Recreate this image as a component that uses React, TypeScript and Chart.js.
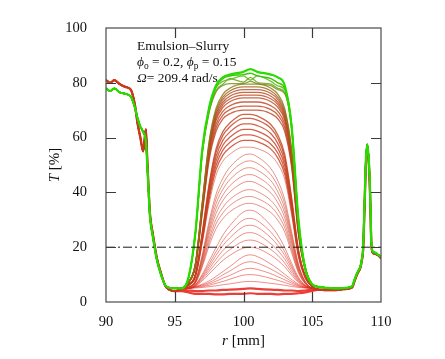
import React, { useEffect, useRef } from 'react';
import { Chart, registerables } from 'chart.js';

Chart.register(...registerables);

// ---------------- data ----------------
const X_MIN = 90;
const X_MAX = 110;
const Y_MIN = 0;
const Y_MAX = 100;
const X_TICK_STEP = 5;
const Y_TICK_STEP = 20;
const X_INNER_TICKS = [95, 100, 105];
const Y_INNER_TICKS = [20, 40, 60, 80];
const THRESHOLD_T = 20;

// left edge of the cell (shared by all profiles)
const R_LEFT = [90, 90.3, 90.6, 91, 91.4, 91.8, 92.1, 92.3, 92.5, 92.7, 92.9, 93.0, 93.1, 93.2, 93.4, 93.7, 94.0, 94.3, 94.6, 95.0];
const T_LEFT_EARLY = [81, 80, 81, 79.5, 78.5, 77.5, 72, 65, 60, 55, 63, 52, 41, 32, 25, 16, 10.5, 6, 4.5, 4];
const T_LEFT_LATE = [78, 77, 78, 76.5, 76, 75, 71, 67, 64, 62, 58.5, 50, 40, 31, 24, 15.3, 10, 6.2, 5.2, 5];

// right edge of the cell (shared by all profiles)
const R_RIGHT = [105.5, 106, 106.5, 107, 107.5, 107.9, 108.1, 108.3, 108.5, 108.6, 108.7, 108.8, 108.9, 109.0, 109.1, 109.2, 109.3, 109.4, 109.6, 109.8, 110];
const T_RIGHT_EARLY = [4.5, 4.3, 4.3, 4.5, 4.8, 5.3, 8, 10.5, 12.5, 15, 19, 34, 50, 56, 52, 40, 21, 18, 17.5, 17, 16];
const T_RIGHT_LATE = [5.5, 5.2, 5, 5, 5.2, 5.8, 8.5, 11, 13, 15.5, 20, 36, 52, 57.5, 53, 42, 22, 18.5, 18, 17.2, 16.5];

// central clearing zone, one profile per measurement time (early -> late)
const R_MID = [95.5, 96, 96.5, 97, 97.5, 98, 98.5, 99, 100, 100.5, 101, 102, 102.5, 103, 103.5, 104, 104.5, 105];
const MID_PROFILES = [
  [4, 3.5, 3, 3, 3, 2.8, 2.8, 3, 3, 3.2, 3, 3, 2.8, 3, 3, 3.2, 3.5, 4],
  [4.5, 4.2, 4, 4, 4.2, 4.2, 4.4, 4.5, 4.8, 5, 4.8, 4.5, 4.4, 4.2, 4.2, 4, 4.2, 4.5],
  [5, 5, 5.1, 5.3, 5.6, 5.9, 6.3, 6.6, 7.4, 7.5, 7.4, 6.8, 6.5, 6.1, 5.7, 5.3, 5.1, 5],
  [5, 5, 5.3, 5.6, 6.1, 6.8, 7.5, 8.3, 9.8, 10, 9.8, 8.6, 7.9, 7.1, 6.3, 5.6, 5.2, 5],
  [5, 5, 5.4, 5.9, 6.6, 7.6, 8.7, 9.7, 11.9, 12.3, 11.9, 10.3, 9.2, 8.1, 6.9, 5.9, 5.2, 5],
  [5, 5, 5.5, 6.2, 7.1, 8.4, 9.9, 11.3, 14.2, 14.7, 14.2, 12, 10.6, 9.1, 7.5, 6.2, 5.3, 5],
  [5, 5, 5.6, 6.5, 7.7, 9.3, 11.1, 12.9, 16.6, 17.2, 16.6, 13.8, 12.1, 10.1, 8.2, 6.5, 5.4, 5],
  [5, 5, 5.8, 7.7, 10.3, 12.8, 15.2, 17, 19.7, 20, 19.6, 17, 15.2, 12.8, 9.8, 7.1, 5.6, 5],
  [5, 5, 5.9, 8.2, 11.2, 14.2, 17, 19.1, 22.2, 22.6, 22.1, 19.1, 17, 14.2, 10.6, 7.5, 5.7, 5],
  [5, 5, 6, 8.7, 12.1, 15.6, 18.8, 21.2, 24.9, 25.3, 24.7, 21.2, 18.8, 15.6, 11.5, 7.8, 5.8, 5],
  [5, 5, 6.2, 9.1, 13, 17, 20.6, 23.4, 27.5, 28, 27.3, 23.4, 20.6, 17, 12.4, 8.2, 5.9, 5],
  [5, 5, 6.3, 9.6, 13.9, 18.3, 22.3, 25.4, 30, 30.5, 29.7, 25.4, 22.3, 18.3, 13.2, 8.6, 6, 5],
  [5, 5, 6.4, 10.1, 15, 19.8, 24.4, 27.8, 32.9, 33.5, 32.6, 27.8, 24.4, 19.8, 14.1, 9, 6.1, 5],
  [5, 5.3, 6.9, 12.8, 20.5, 26.7, 30.4, 32.9, 35.7, 36, 35.4, 32.6, 29.8, 25.5, 18, 10.6, 6.6, 5],
  [5, 5.3, 7, 13.4, 21.8, 28.5, 32.5, 35.2, 38.2, 38.5, 37.8, 34.8, 31.8, 27.1, 19.1, 11, 6.7, 5],
  [5, 5.4, 7.2, 14, 23, 30.2, 34.5, 37.4, 40.6, 41, 40.3, 37, 33.8, 28.8, 20.1, 11.5, 6.8, 5],
  [5, 5.4, 7.3, 14.8, 24.5, 32.3, 37, 40.1, 43.6, 44, 43.2, 39.7, 36.2, 30.7, 21.4, 12, 7, 5],
  [5, 5.4, 7.5, 15.4, 25.8, 34, 39, 42.4, 46.1, 46.5, 45.7, 41.9, 38.2, 32.4, 22.4, 12.5, 7.1, 5],
  [5, 5.4, 7.6, 16, 27, 35.8, 41.1, 44.6, 48.6, 49, 48.1, 44.2, 40.2, 34, 23.5, 12.9, 7.2, 5],
  [5, 5.5, 7.8, 16.6, 28.3, 37.6, 43.1, 46.9, 51, 51.5, 50.6, 46.4, 42.2, 35.7, 24.5, 13.4, 7.3, 5],
  [5, 5.5, 7.9, 17.3, 29.5, 39.3, 45.2, 49.1, 53.5, 54, 53, 48.6, 44.2, 37.3, 25.6, 13.8, 7.5, 5],
  [5, 6, 9.1, 21.5, 35.9, 46.2, 51.4, 53.9, 56.5, 56.5, 56, 53.4, 50.3, 44.7, 31.8, 16.3, 8.6, 5.5],
  [5, 6.1, 9.3, 22.3, 37.4, 48.2, 53.6, 56.3, 59, 59, 58.5, 55.8, 52.5, 46.6, 33.1, 16.9, 8.8, 5.5],
  [5, 6.1, 9.5, 22.9, 38.6, 49.8, 55.4, 58.2, 61, 61, 60.4, 57.6, 54.3, 48.1, 34.1, 17.3, 8.9, 5.6],
  [5, 6.2, 9.6, 23.6, 39.8, 51.4, 57.2, 60.1, 63, 63, 62.4, 59.5, 56, 49.7, 35.2, 17.8, 9.1, 5.6],
  [5, 6.2, 9.8, 24.2, 41, 53, 59, 62, 65, 65, 64.4, 61.4, 57.8, 51.2, 36.2, 18.2, 9.2, 5.6],
  [5, 6.2, 10, 24.8, 42.2, 54.6, 60.8, 63.9, 67, 67, 66.4, 63.3, 59.6, 52.7, 37.2, 18.6, 9.3, 5.6],
  [5, 6.3, 10.1, 25.3, 43.1, 55.8, 62.2, 65.3, 68.5, 68.5, 67.9, 64.7, 60.9, 53.9, 38, 19, 9.4, 5.6],
  [5, 7, 12.8, 32.3, 51.8, 62.2, 66.8, 68.7, 70, 70, 70, 68.7, 66.8, 62.2, 49.2, 24.5, 11.5, 6.3],
  [5, 7, 13, 32.9, 52.9, 63.5, 68.2, 70.2, 71.5, 71.5, 71.5, 70.2, 68.2, 63.5, 50.2, 25, 11.7, 6.3],
  [5, 7, 13.2, 33.6, 54, 64.8, 69.6, 71.6, 73, 73, 73, 71.6, 69.6, 64.8, 51.2, 25.4, 11.8, 6.4],
  [5, 7.1, 13.3, 34.2, 55, 66.2, 71, 73.1, 74.5, 74.5, 74.5, 73.1, 71, 66.2, 52.3, 25.9, 12, 6.4],
  [5, 7.1, 13.5, 34.6, 55.8, 67, 72, 74.1, 75.5, 75.5, 75.5, 74.1, 72, 67, 52.9, 26.2, 12.1, 6.4],
  [5, 7.1, 13.6, 35, 56.5, 67.9, 72.9, 75.1, 76.5, 76.5, 76.5, 75.1, 72.9, 67.9, 53.6, 26.5, 12.2, 6.4],
  [5, 7.2, 13.7, 35.5, 57.2, 68.8, 73.9, 76.1, 77.5, 77.5, 77.5, 76.1, 73.9, 68.8, 54.3, 26.8, 12.3, 6.5],
  [5, 7.2, 13.8, 35.9, 57.9, 69.7, 74.8, 77, 78.5, 78.5, 78.5, 77, 74.8, 69.7, 55, 27, 12.4, 6.5],
  [5, 7.2, 13.9, 36.3, 58.6, 70.6, 75.8, 78, 79.5, 79.5, 79.5, 78, 75.8, 70.6, 55.7, 27.4, 12.5, 6.5],
  [5, 8.8, 24.6, 54.1, 69.2, 76.7, 79, 79.7, 79.7, 80.5, 79.7, 79, 77.5, 76, 63.1, 29.2, 11.8, 6.5],
  [5, 8.8, 24.8, 54.4, 69.6, 77.2, 79.5, 81.5, 80.2, 82, 80.2, 79.5, 78, 76.4, 63.5, 29.3, 11.8, 6.5],
  [5, 8.9, 25, 55, 70.5, 78.2, 80.5, 81.2, 82.5, 81, 82.5, 80.5, 78.9, 77.4, 64.3, 29.6, 11.9, 6.5],
  [5, 8.9, 25.2, 55.4, 70.9, 78.6, 81.5, 82.5, 83, 83.5, 82.5, 81.5, 80, 77.9, 64.7, 29.8, 12, 6.5],
  [5, 8.9, 25.3, 55.7, 71, 79, 82, 83, 84, 85, 84, 83, 82, 79, 64, 30, 12, 6.5],
];
// profiles before this index still show the early (red) cell edges
const EARLY_COUNT = 28;

// ---------------- styles ----------------
const SERIF = '"Liberation Serif", "Times New Roman", Times, serif';
const RED = [236, 40, 34];
const BROWN = [184, 68, 28];
const GREEN = [40, 220, 0];

function mix(a: number[], b: number[], t: number) {
  return a.map((v, k) => Math.round(v + (b[k] - v) * t));
}

function curveStyle(i: number, n: number) {
  const t = i / (n - 1);
  let c: number[];
  if (t < 0.82) c = mix(RED, BROWN, t / 0.82);
  else c = mix(BROWN, GREEN, (t - 0.82) / 0.18);
  let alpha = i < 22 ? 0.6 : 0.8;
  let width = i < 22 ? 0.9 : 1.3;
  if (i < 2) { width = 2.2; alpha = 0.9; }
  if (i === n - 2) { width = 1.4; alpha = 1; }
  if (i === n - 1) { width = 2.2; alpha = 1; }
  return { color: `rgba(${c[0]},${c[1]},${c[2]},${alpha})`, width };
}

type Run = { t: string; italic?: boolean; sub?: boolean };

function drawRuns(ctx: CanvasRenderingContext2D, runs: Run[], x: number, y: number, size: number, align: 'left' | 'center' = 'left') {
  const fontFor = (r: Run) => `${r.italic ? 'italic ' : ''}${r.sub ? size * 0.7 : size}px ${SERIF}`;
  let total = 0;
  for (const r of runs) { ctx.font = fontFor(r); total += ctx.measureText(r.t).width; }
  let cx = align === 'center' ? x - total / 2 : x;
  for (const r of runs) {
    ctx.font = fontFor(r);
    ctx.fillText(r.t, cx, r.sub ? y + size * 0.22 : y);
    cx += ctx.measureText(r.t).width;
  }
}

const decorPlugin = {
  id: 'decor',
  afterDatasetsDraw(chart: any) {
    const { ctx, chartArea } = chart;
    const { left, right, top, bottom } = chartArea;
    const xs = chart.scales.x;
    const ys = chart.scales.y;
    ctx.save();
    // frame
    ctx.strokeStyle = '#4a4a4a';
    ctx.lineWidth = 1.2;
    ctx.strokeRect(left, top, right - left, bottom - top);
    // inward ticks on all sides
    ctx.strokeStyle = '#3a3a3a';
    const TL = 10;
    ctx.beginPath();
    for (const v of X_INNER_TICKS) {
      const px = Math.round(xs.getPixelForValue(v)) + 0.5;
      ctx.moveTo(px, bottom); ctx.lineTo(px, bottom - TL);
      ctx.moveTo(px, top); ctx.lineTo(px, top + TL);
    }
    for (const v of Y_INNER_TICKS) {
      const py = Math.round(ys.getPixelForValue(v)) + 0.5;
      ctx.moveTo(left, py); ctx.lineTo(left + TL, py);
      ctx.moveTo(right, py); ctx.lineTo(right - TL, py);
    }
    ctx.stroke();

    // annotation
    ctx.fillStyle = '#111';
    ctx.textBaseline = 'alphabetic';
    const ax = left + 31;
    const ay = top + 22;
    const fs = 13.5;
    drawRuns(ctx, [{ t: 'Emulsion\u2013Slurry' }], ax, ay, fs);
    drawRuns(ctx, [
      { t: '\u03D5', italic: true }, { t: 'o', sub: true }, { t: ' = 0.2, ' },
      { t: '\u03D5', italic: true }, { t: 'p', sub: true }, { t: ' = 0.15' },
    ], ax, ay + 16, fs);
    drawRuns(ctx, [{ t: '\u03A9', italic: true }, { t: '= 209.4 rad/s' }], ax, ay + 32, fs);

    // axis titles
    const tfs = 15;
    drawRuns(ctx, [{ t: 'r', italic: true }, { t: ' [mm]' }], (left + right) / 2, 336.5, tfs, 'center');
    ctx.save();
    ctx.translate(50.5, (top + bottom) / 2);
    ctx.rotate(-Math.PI / 2);
    drawRuns(ctx, [{ t: 'T', italic: true }, { t: ' [%]' }], 0, 0, tfs, 'center');
    ctx.restore();

    ctx.restore();
  },
};

export default function App() {
  const ref = useRef<HTMLCanvasElement>(null);

  useEffect(() => {
    const canvas = ref.current;
    if (!canvas) return;
    const n = MID_PROFILES.length;
    const datasets: any[] = MID_PROFILES.map((mid, i) => {
      const early = i < EARLY_COUNT;
      const leftT = early ? T_LEFT_EARLY : T_LEFT_LATE;
      const rightT = early ? T_RIGHT_EARLY : T_RIGHT_LATE;
      const data = [
        ...R_LEFT.map((r, k) => ({ x: r, y: leftT[k] })),
        ...R_MID.map((r, k) => ({ x: r, y: mid[k] })),
        ...R_RIGHT.map((r, k) => ({ x: r, y: rightT[k] })),
      ];
      const st = curveStyle(i, n);
      return {
        data,
        borderColor: st.color,
        borderWidth: st.width,
        pointRadius: 0,
        fill: false,
        cubicInterpolationMode: 'monotone',
        order: 1000 - i,
      };
    });
    datasets.push({
      data: [{ x: X_MIN, y: THRESHOLD_T }, { x: X_MAX, y: THRESHOLD_T }],
      borderColor: '#1a1a1a',
      borderWidth: 1,
      borderDash: [9, 3, 2, 3],
      pointRadius: 0,
      fill: false,
      order: 0,
    });

    const tickFont = { family: SERIF, size: 14.5 };
    const chart = new Chart(canvas, {
      type: 'line',
      data: { datasets },
      options: {
        animation: false,
        responsive: false,
        events: [],
        layout: { padding: { left: 0, right: 56, top: 20, bottom: 0 } },
        plugins: { legend: { display: false }, tooltip: { enabled: false } },
        elements: { point: { radius: 0 } },
        scales: {
          x: {
            type: 'linear',
            min: X_MIN,
            max: X_MAX,
            grid: { display: false },
            border: { display: false },
            ticks: { stepSize: X_TICK_STEP, font: tickFont, color: '#111', padding: 3, maxRotation: 0 },
            afterFit: (s: any) => { s.height = 49; },
          },
          y: {
            type: 'linear',
            min: Y_MIN,
            max: Y_MAX,
            grid: { display: false },
            border: { display: false },
            ticks: { stepSize: Y_TICK_STEP, font: tickFont, color: '#111', padding: 11 },
            afterFit: (s: any) => { s.width = 98; },
          },
        },
      } as any,
      plugins: [decorPlugin],
    });
    return () => chart.destroy();
  }, []);

  return (
    <div style={{ width: 429, height: 343 }}>
      <canvas ref={ref} width={429} height={343} style={{ display: 'block' }} />
    </div>
  );
}
